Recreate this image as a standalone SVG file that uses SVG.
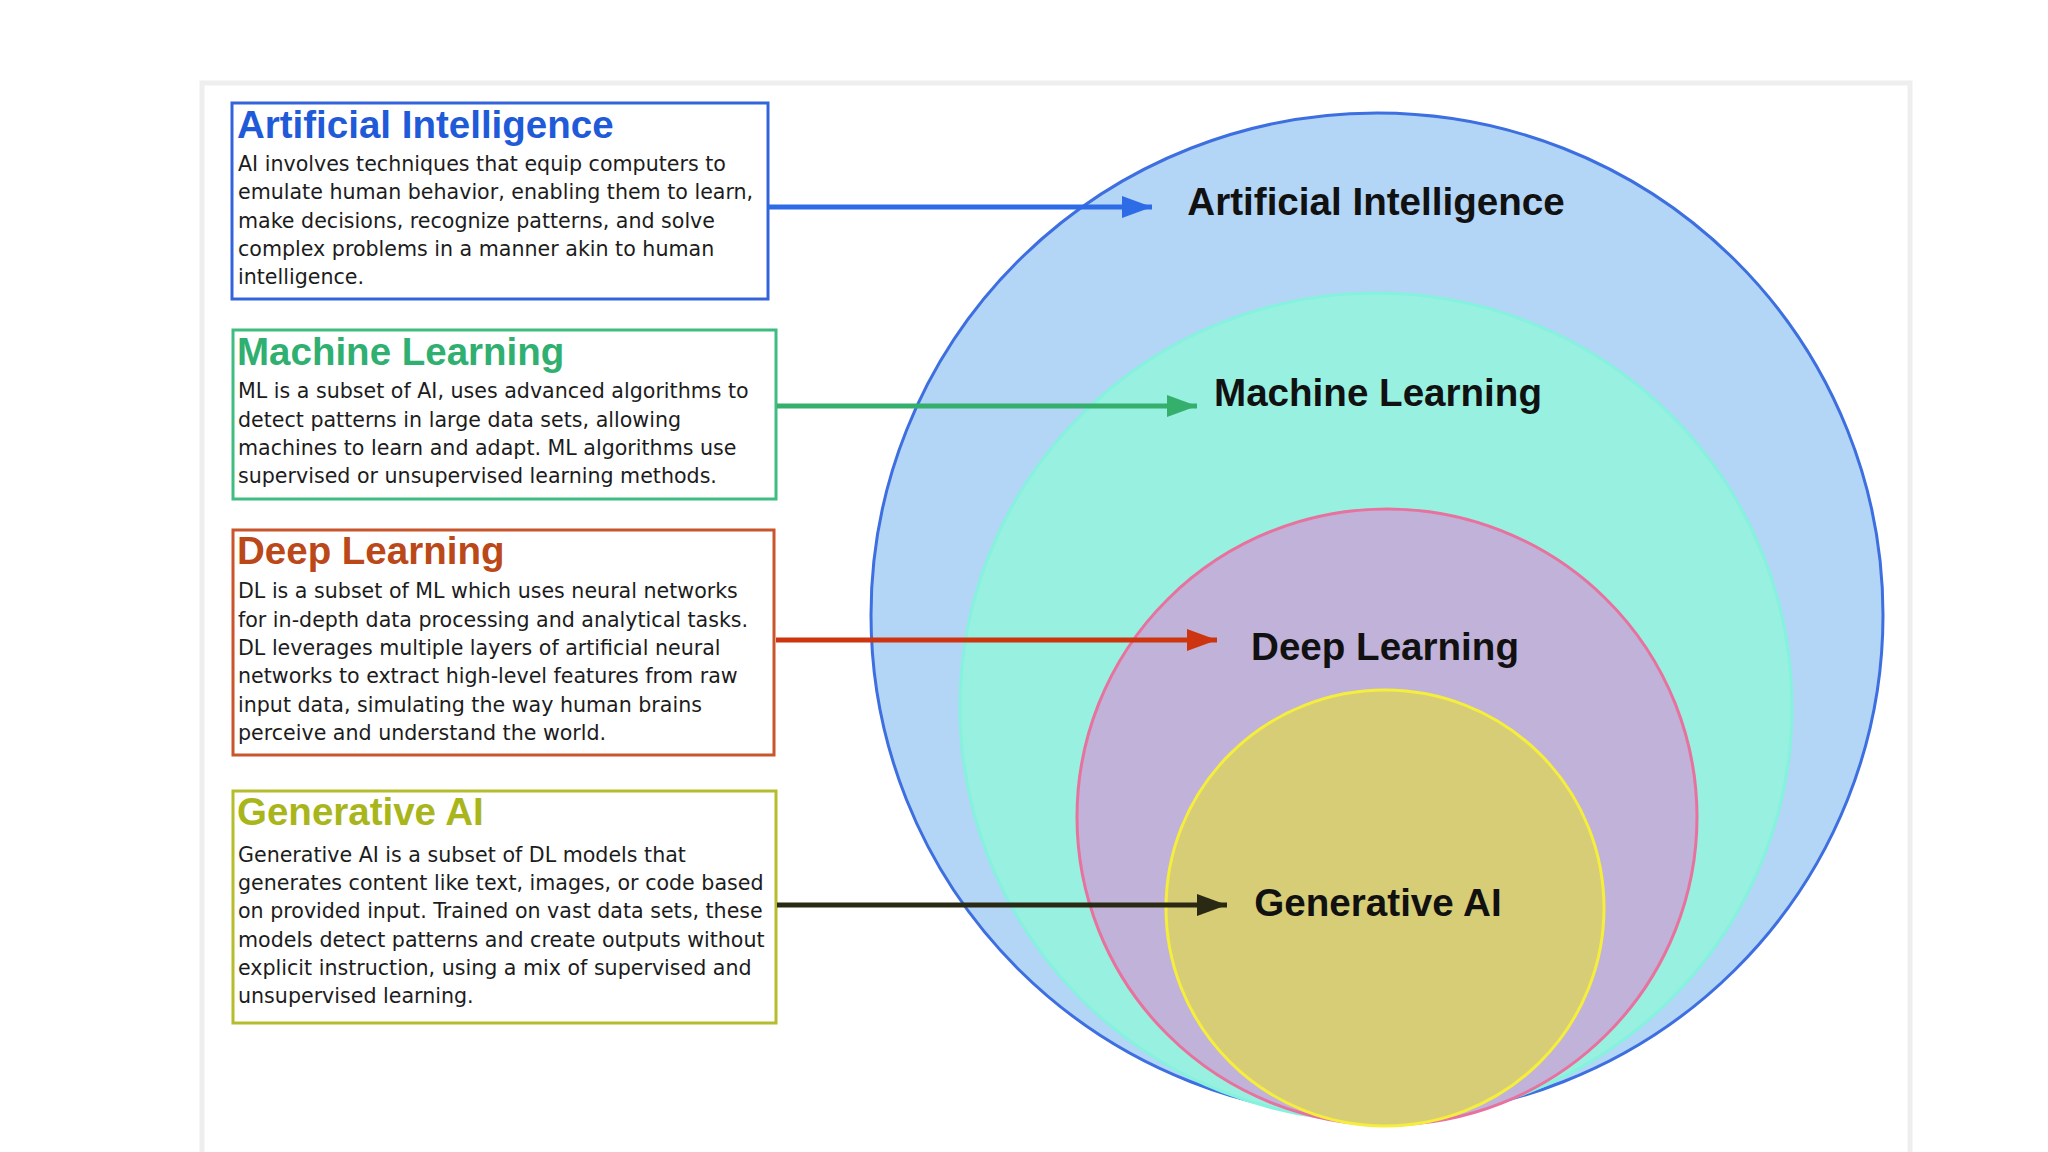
<svg xmlns="http://www.w3.org/2000/svg" width="2048" height="1152" viewBox="0 0 2048 1152">
<style>
.title{font-family:"Liberation Sans",Arial,sans-serif;font-weight:bold;font-size:38.5px}
.body{font-family:"DejaVu Sans",Verdana,sans-serif;font-size:20.6px;fill:#1c1c1c}
.clabel{font-family:"Liberation Sans",Arial,sans-serif;font-weight:bold;font-size:38.6px;fill:#111;text-anchor:middle}
.box{fill:#ffffff;stroke-width:3}
.conn{stroke-width:5;fill:none}
</style>
<defs>
<marker id="hBlue" markerUnits="userSpaceOnUse" markerWidth="32" markerHeight="22" refX="30" refY="11" orient="auto"><path d="M0,0 L30,11 L0,22 Z" fill="#2e6be6"/></marker>
<marker id="hGreen" markerUnits="userSpaceOnUse" markerWidth="32" markerHeight="22" refX="30" refY="11" orient="auto"><path d="M0,0 L30,11 L0,22 Z" fill="#34b06c"/></marker>
<marker id="hRed" markerUnits="userSpaceOnUse" markerWidth="32" markerHeight="22" refX="30" refY="11" orient="auto"><path d="M0,0 L30,11 L0,22 Z" fill="#cc3510"/></marker>
<marker id="hDark" markerUnits="userSpaceOnUse" markerWidth="32" markerHeight="22" refX="30" refY="11" orient="auto"><path d="M0,0 L30,11 L0,22 Z" fill="#2a2a14"/></marker>
</defs>
<rect width="2048" height="1152" fill="#ffffff"/>
<rect x="202" y="83" width="1708" height="1080" fill="none" stroke="#eeeeee" stroke-width="5"/>

<g id="circle-ai"><ellipse cx="1377" cy="615" rx="506" ry="502" fill="#b3d5f6" stroke="#3d6fe0" stroke-width="3"/><text class="clabel" x="1376" y="215">Artificial Intelligence</text></g>
<g id="circle-ml"><ellipse cx="1376" cy="707" rx="416" ry="414" fill="#97f0e0" stroke="#86f2de" stroke-width="3"/><text class="clabel" x="1378" y="406">Machine Learning</text></g>
<g id="circle-dl"><ellipse cx="1387" cy="817" rx="310" ry="308" fill="#c0b2d8" stroke="#e8729e" stroke-width="3"/><text class="clabel" x="1385" y="660">Deep Learning</text></g>
<g id="circle-gen"><ellipse cx="1385" cy="908" rx="219" ry="218" fill="#d6cd76" stroke="#f5ee3c" stroke-width="3"/><text class="clabel" x="1378" y="916">Generative AI</text></g>

<g id="box-ai">
<rect class="box" x="232" y="103" width="536" height="196" stroke="#3464dc"/>
<text class="title" x="237" y="138" fill="#1f5ad8">Artificial Intelligence</text>
<text class="body" x="238" y="171">AI involves techniques that equip computers to</text>
<text class="body" x="238" y="199">emulate human behavior, enabling them to learn,</text>
<text class="body" x="238" y="228">make decisions, recognize patterns, and solve</text>
<text class="body" x="238" y="256">complex problems in a manner akin to human</text>
<text class="body" x="238" y="284">intelligence.</text>
</g>
<g id="box-ml">
<rect class="box" x="233" y="330" width="543" height="169" stroke="#3fbd80"/>
<text class="title" x="237" y="365" fill="#30b070">Machine Learning</text>
<text class="body" x="238" y="398">ML is a subset of AI, uses advanced algorithms to</text>
<text class="body" x="238" y="427">detect patterns in large data sets, allowing</text>
<text class="body" x="238" y="455">machines to learn and adapt. ML algorithms use</text>
<text class="body" x="238" y="483">supervised or unsupervised learning methods.</text>
</g>
<g id="box-dl">
<rect class="box" x="233" y="530" width="541" height="225" stroke="#c9552c"/>
<text class="title" x="237" y="564" fill="#bb4818">Deep Learning</text>
<text class="body" x="238" y="598">DL is a subset of ML which uses neural networks</text>
<text class="body" x="238" y="627">for in-depth data processing and analytical tasks.</text>
<text class="body" x="238" y="655">DL leverages multiple layers of artificial neural</text>
<text class="body" x="238" y="683">networks to extract high-level features from raw</text>
<text class="body" x="238" y="712">input data, simulating the way human brains</text>
<text class="body" x="238" y="740">perceive and understand the world.</text>
</g>
<g id="box-gen">
<rect class="box" x="233" y="791" width="543" height="232" stroke="#b6bd2c"/>
<text class="title" x="237" y="825" fill="#a8b61c">Generative AI</text>
<text class="body" x="238" y="862">Generative AI is a subset of DL models that</text>
<text class="body" x="238" y="890">generates content like text, images, or code based</text>
<text class="body" x="238" y="918">on provided input. Trained on vast data sets, these</text>
<text class="body" x="238" y="947">models detect patterns and create outputs without</text>
<text class="body" x="238" y="975">explicit instruction, using a mix of supervised and</text>
<text class="body" x="238" y="1003">unsupervised learning.</text>
</g>

<g id="connectors">
<line class="conn" x1="769" y1="207" x2="1152" y2="207" stroke="#2e6be6" marker-end="url(#hBlue)"/>
<line class="conn" x1="777" y1="406" x2="1197" y2="406" stroke="#34b06c" marker-end="url(#hGreen)"/>
<line class="conn" x1="776" y1="640" x2="1217" y2="640" stroke="#cc3510" marker-end="url(#hRed)"/>
<line class="conn" x1="777" y1="905" x2="1227" y2="905" stroke="#2a2a14" marker-end="url(#hDark)"/>
</g>
</svg>
